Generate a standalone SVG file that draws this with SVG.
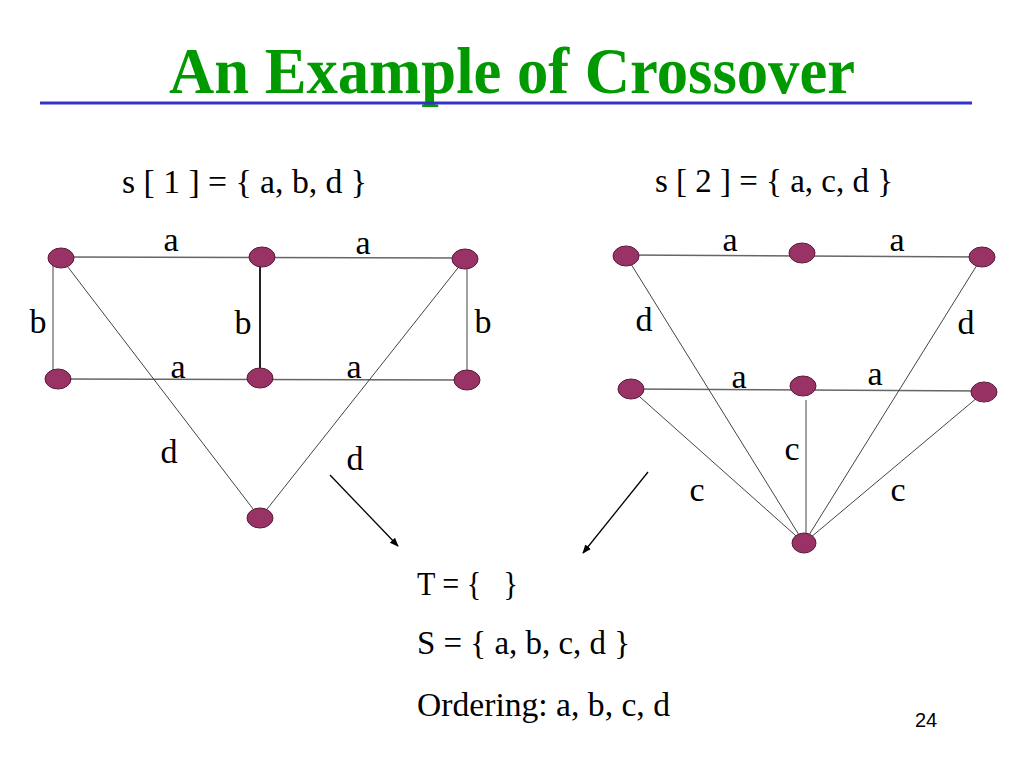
<svg xmlns="http://www.w3.org/2000/svg" width="1024" height="768" viewBox="0 0 1024 768">
<defs>
<style>
.node{fill:#993366;stroke:#5a1a3a;stroke-width:1}
.e{stroke:#444;stroke-width:1;fill:none}
.eh{stroke:#666;stroke-width:1.6;fill:none}
.lbl{font-family:"Liberation Serif","Times New Roman",serif;font-size:34px;fill:#000;text-anchor:middle}
.txt{font-family:"Liberation Serif","Times New Roman",serif;font-size:34px;fill:#000;white-space:pre}
.arr{stroke:#000;stroke-width:1.3;fill:none;marker-end:url(#ah)}
</style>
<marker id="ah" viewBox="0 0 10 10" refX="9" refY="5" markerWidth="9" markerHeight="9" markerUnits="userSpaceOnUse" orient="auto">
<path d="M0,1 L10,5 L0,9 Z" fill="#000"/>
</marker>
</defs>
<rect width="1024" height="768" fill="#fff"/>
<text x="169" y="93" font-family="Liberation Serif,'Times New Roman',serif" font-weight="bold" font-size="65" fill="#009900" textLength="686" lengthAdjust="spacingAndGlyphs">An Example of Crossover</text>
<line x1="40" y1="103" x2="972" y2="103" stroke="#3333cc" stroke-width="3"/>
<text class="txt" x="122" y="193" textLength="245" lengthAdjust="spacingAndGlyphs">s [ 1 ] = { a, b, d }</text>
<text class="txt" x="655" y="192" textLength="238" lengthAdjust="spacingAndGlyphs">s [ 2 ] = { a, c, d }</text>
<g id="connectors">
<line class="eh" x1="61" y1="257" x2="465" y2="258"/>
<line class="eh" x1="58" y1="379" x2="467" y2="380"/>
<line class="e" x1="53" y1="258" x2="53" y2="379"/>
<line stroke="#222" stroke-width="2" x1="260" y1="257" x2="260" y2="378"/>
<line class="e" x1="467" y1="259" x2="467" y2="380"/>
<line class="e" x1="61" y1="258" x2="260" y2="518"/>
<line class="e" x1="465" y1="259" x2="260" y2="518"/>
<line class="eh" x1="626" y1="255" x2="982" y2="257"/>
<line class="eh" x1="631" y1="389" x2="984" y2="391"/>
<line class="e" x1="626" y1="256" x2="804" y2="543"/>
<line class="e" x1="982" y1="257" x2="804" y2="543"/>
<line class="e" x1="631" y1="389" x2="804" y2="543"/>
<line class="e" x1="806" y1="400" x2="806" y2="543"/>
<line class="e" x1="984" y1="392" x2="804" y2="543"/>
<line class="arr" x1="330" y1="475" x2="398" y2="546"/>
<line class="arr" x1="648" y1="472" x2="583" y2="553"/>
</g>
<g id="n1"><ellipse class="node" cx="61" cy="258" rx="13" ry="10"/></g>
<g id="n2"><ellipse class="node" cx="262" cy="257" rx="13" ry="10"/></g>
<g id="n3"><ellipse class="node" cx="465" cy="259" rx="13" ry="10"/></g>
<g id="n4"><ellipse class="node" cx="58" cy="379" rx="13" ry="10"/></g>
<g id="n5"><ellipse class="node" cx="260" cy="378" rx="13" ry="10"/></g>
<g id="n6"><ellipse class="node" cx="467" cy="380" rx="13" ry="10"/></g>
<g id="n7"><ellipse class="node" cx="260" cy="518" rx="13" ry="10"/></g>
<g id="m1"><ellipse class="node" cx="626" cy="256" rx="13" ry="10"/></g>
<g id="m2"><ellipse class="node" cx="802" cy="253" rx="13" ry="10"/></g>
<g id="m3"><ellipse class="node" cx="982" cy="257" rx="13" ry="10"/></g>
<g id="m4"><ellipse class="node" cx="631" cy="389" rx="13" ry="10"/></g>
<g id="m5"><ellipse class="node" cx="803" cy="386" rx="13" ry="10"/></g>
<g id="m6"><ellipse class="node" cx="984" cy="392" rx="13" ry="10"/></g>
<g id="m7"><ellipse class="node" cx="804" cy="543" rx="12" ry="10"/></g>
<g id="labels">
<text class="lbl" x="171" y="251">a</text>
<text class="lbl" x="363" y="254">a</text>
<text class="lbl" x="38" y="333">b</text>
<text class="lbl" x="243" y="334">b</text>
<text class="lbl" x="483" y="333">b</text>
<text class="lbl" x="178" y="378">a</text>
<text class="lbl" x="354" y="378">a</text>
<text class="lbl" x="169" y="463">d</text>
<text class="lbl" x="355" y="470">d</text>
<text class="lbl" x="730" y="251">a</text>
<text class="lbl" x="897" y="251">a</text>
<text class="lbl" x="644" y="331">d</text>
<text class="lbl" x="966" y="334">d</text>
<text class="lbl" x="739" y="388">a</text>
<text class="lbl" x="875" y="385">a</text>
<text class="lbl" x="792" y="460">c</text>
<text class="lbl" x="697" y="501">c</text>
<text class="lbl" x="898" y="501">c</text>
</g>
<text class="txt" x="417" y="595" xml:space="preserve" textLength="101" lengthAdjust="spacingAndGlyphs">T = {   }</text>
<text class="txt" x="417" y="654" textLength="213" lengthAdjust="spacingAndGlyphs">S = { a, b, c, d }</text>
<text class="txt" x="417" y="716" textLength="253" lengthAdjust="spacingAndGlyphs">Ordering: a, b, c, d</text>
<text x="915" y="727" font-family="'Liberation Sans',Arial,sans-serif" font-size="20" fill="#000">24</text>
</svg>
